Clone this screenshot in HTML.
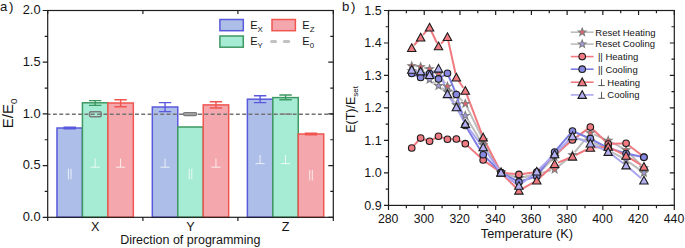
<!DOCTYPE html>
<html><head><meta charset="utf-8"><style>
html,body{margin:0;padding:0;background:#fff;}
svg{display:block;}
text{font-family:"Liberation Sans", sans-serif;fill:#141414;}
</style></head><body>
<svg width="685" height="248" viewBox="0 0 685 248">
<rect width="685" height="248" fill="#fff"/>
<rect x="56.98" y="128.00" width="25.45" height="89.30" fill="#adbfe8" stroke="#5a58dc" stroke-width="1.5"/><path d="M63.50 127.30H75.90M63.50 128.70H75.90M69.70 127.30V128.70" stroke="#5a58dc" stroke-width="1.4" fill="none"/><path d="M68.40 168.80v10.5M71.00 168.80v10.5" stroke="#ffffff" stroke-opacity="0.85" stroke-width="0.9" fill="none"/><rect x="82.43" y="102.80" width="25.45" height="114.50" fill="#a6ecd4" stroke="#3e9862" stroke-width="1.5"/><path d="M88.95 100.60H101.35M88.95 105.40H101.35M95.15 100.60V105.40" stroke="#3e9862" stroke-width="1.4" fill="none"/><path d="M95.15 158.60v8.6M90.55 167.20h9.2" stroke="#ffffff" stroke-opacity="0.85" stroke-width="0.9" fill="none"/><rect x="107.88" y="103.00" width="25.45" height="114.30" fill="#f4a8ad" stroke="#f0564f" stroke-width="1.5"/><path d="M114.40 99.80H126.80M114.40 106.80H126.80M120.60 99.80V106.80" stroke="#f0564f" stroke-width="1.4" fill="none"/><path d="M120.60 158.60v8.6M116.00 167.20h9.2" stroke="#ffffff" stroke-opacity="0.85" stroke-width="0.9" fill="none"/><rect x="152.32" y="107.00" width="25.45" height="110.30" fill="#adbfe8" stroke="#5a58dc" stroke-width="1.5"/><path d="M158.85 102.60H171.25M158.85 111.60H171.25M165.05 102.60V111.60" stroke="#5a58dc" stroke-width="1.4" fill="none"/><path d="M165.05 158.60v8.6M160.45 167.20h9.2" stroke="#ffffff" stroke-opacity="0.85" stroke-width="0.9" fill="none"/><rect x="177.77" y="127.00" width="25.45" height="90.30" fill="#a6ecd4" stroke="#3e9862" stroke-width="1.5"/><path d="M189.20 168.80v10.5M191.80 168.80v10.5" stroke="#ffffff" stroke-opacity="0.85" stroke-width="0.9" fill="none"/><rect x="203.22" y="104.90" width="25.45" height="112.40" fill="#f4a8ad" stroke="#f0564f" stroke-width="1.5"/><path d="M209.75 101.80H222.15M209.75 108.00H222.15M215.95 101.80V108.00" stroke="#f0564f" stroke-width="1.4" fill="none"/><path d="M215.95 158.60v8.6M211.35 167.20h9.2" stroke="#ffffff" stroke-opacity="0.85" stroke-width="0.9" fill="none"/><rect x="247.38" y="99.20" width="25.45" height="118.10" fill="#adbfe8" stroke="#5a58dc" stroke-width="1.5"/><path d="M253.90 95.80H266.30M253.90 102.60H266.30M260.10 95.80V102.60" stroke="#5a58dc" stroke-width="1.4" fill="none"/><path d="M260.10 155.00v8.6M255.50 163.60h9.2" stroke="#ffffff" stroke-opacity="0.85" stroke-width="0.9" fill="none"/><rect x="272.82" y="97.60" width="25.45" height="119.70" fill="#a6ecd4" stroke="#3e9862" stroke-width="1.5"/><path d="M279.35 95.00H291.75M279.35 99.80H291.75M285.55 95.00V99.80" stroke="#3e9862" stroke-width="1.4" fill="none"/><path d="M285.55 155.00v8.6M280.95 163.60h9.2" stroke="#ffffff" stroke-opacity="0.85" stroke-width="0.9" fill="none"/><rect x="298.27" y="134.00" width="25.45" height="83.30" fill="#f4a8ad" stroke="#f0564f" stroke-width="1.5"/><path d="M304.80 133.30H317.20M304.80 134.70H317.20M311.00 133.30V134.70" stroke="#f0564f" stroke-width="1.4" fill="none"/><path d="M309.70 170.00v10.5M312.30 170.00v10.5" stroke="#ffffff" stroke-opacity="0.85" stroke-width="0.9" fill="none"/>
<line x1="47.7" y1="114.2" x2="333.3" y2="114.2" stroke="#737373" stroke-width="1.6" stroke-dasharray="3.9 2.41" stroke-dashoffset="1.06"/>
<rect x="89.6" y="111.7" width="11.6" height="5.0" rx="1.2" fill="none" stroke="#7a7a7a" stroke-width="1.5"/>
<rect x="183.4" y="112.6" width="13.4" height="2.9" rx="1.4" fill="#acacac" stroke="#7a7a7a" stroke-width="1.3"/>
<line x1="279.6" y1="114.1" x2="292" y2="114.1" stroke="#858585" stroke-width="1.4"/>
<rect x="47.7" y="10.5" width="285.60" height="206.80" fill="none" stroke="#1e1e1e" stroke-width="1.2"/>
<path d="M42.70 217.30H47.70M328.30 217.30H333.30M44.70 191.45H47.70M330.30 191.45H333.30M42.70 165.60H47.70M328.30 165.60H333.30M44.70 139.75H47.70M330.30 139.75H333.30M42.70 113.90H47.70M328.30 113.90H333.30M44.70 88.05H47.70M330.30 88.05H333.30M42.70 62.20H47.70M328.30 62.20H333.30M44.70 36.35H47.70M330.30 36.35H333.30M42.70 10.50H47.70M328.30 10.50H333.30M47.70 217.30V220.90M47.70 10.50V14.10M142.90 217.30V220.90M142.90 10.50V14.10M237.90 217.30V220.90M237.90 10.50V14.10M333.30 217.30V220.90M333.30 10.50V14.10" stroke="#1e1e1e" stroke-width="1.2" fill="none"/>
<text x="40.6" y="221.00" text-anchor="end" font-size="12.9">0.0</text>
<text x="40.6" y="169.30" text-anchor="end" font-size="12.9">0.5</text>
<text x="40.6" y="117.60" text-anchor="end" font-size="12.9">1.0</text>
<text x="40.6" y="65.90" text-anchor="end" font-size="12.9">1.5</text>
<text x="40.6" y="14.20" text-anchor="end" font-size="12.9">2.0</text>
<text x="95.15" y="231.4" text-anchor="middle" font-size="12.6">X</text>
<text x="190.50" y="231.4" text-anchor="middle" font-size="12.6">Y</text>
<text x="285.55" y="231.4" text-anchor="middle" font-size="12.6">Z</text>
<text x="190.3" y="244.2" text-anchor="middle" font-size="12.5">Direction of programming</text>
<text transform="translate(12.6 113.4) rotate(-90)" text-anchor="middle" font-size="15">E/E<tspan font-size="9.8" dy="4.2">0</tspan></text>
<text x="0" y="11.0" font-size="13.2">a<tspan dx="1.6">)</tspan></text>
<rect x="219.9" y="19.5" width="23.4" height="11.2" fill="#adbfe8" stroke="#5a58dc" stroke-width="1.5"/>
<rect x="219.9" y="36.0" width="23.4" height="11.2" fill="#a6ecd4" stroke="#3e9862" stroke-width="1.5"/>
<rect x="272" y="19.5" width="23.4" height="11.2" fill="#f4a8ad" stroke="#f0564f" stroke-width="1.5"/>
<path d="M271.6 41.5H275.6M284.3 41.5H288.7" stroke="#c2c2c2" stroke-width="3" stroke-linecap="round"/>
<text x="250.2" y="28.5" font-size="11">E<tspan font-size="7.8" dy="3.5">X</tspan></text>
<text x="250.2" y="44.9" font-size="11">E<tspan font-size="7.8" dy="3.5">Y</tspan></text>
<text x="302.3" y="28.5" font-size="11">E<tspan font-size="7.8" dy="3.5">Z</tspan></text>
<text x="302.3" y="44.9" font-size="11">E<tspan font-size="7.8" dy="3.5">0</tspan></text>
<rect x="388.5" y="10.5" width="285.80" height="194.90" fill="none" stroke="#1e1e1e" stroke-width="1.2"/>
<path d="M384.00 205.40H388.50M669.80 205.40H674.30M385.70 189.16H388.50M671.50 189.16H674.30M384.00 172.92H388.50M669.80 172.92H674.30M385.70 156.68H388.50M671.50 156.68H674.30M384.00 140.43H388.50M669.80 140.43H674.30M385.70 124.19H388.50M671.50 124.19H674.30M384.00 107.95H388.50M669.80 107.95H674.30M385.70 91.71H388.50M671.50 91.71H674.30M384.00 75.47H388.50M669.80 75.47H674.30M385.70 59.22H388.50M671.50 59.22H674.30M384.00 42.98H388.50M669.80 42.98H674.30M385.70 26.74H388.50M671.50 26.74H674.30M384.00 10.50H388.50M669.80 10.50H674.30M388.50 205.40V209.90M388.50 10.50V15.00M406.36 205.40V208.20M406.36 10.50V13.30M424.23 205.40V209.90M424.23 10.50V15.00M442.09 205.40V208.20M442.09 10.50V13.30M459.95 205.40V209.90M459.95 10.50V15.00M477.81 205.40V208.20M477.81 10.50V13.30M495.67 205.40V209.90M495.67 10.50V15.00M513.54 205.40V208.20M513.54 10.50V13.30M531.40 205.40V209.90M531.40 10.50V15.00M549.26 205.40V208.20M549.26 10.50V13.30M567.12 205.40V209.90M567.12 10.50V15.00M584.99 205.40V208.20M584.99 10.50V13.30M602.85 205.40V209.90M602.85 10.50V15.00M620.71 205.40V208.20M620.71 10.50V13.30M638.57 205.40V209.90M638.57 10.50V15.00M656.44 205.40V208.20M656.44 10.50V13.30M674.30 205.40V209.90M674.30 10.50V15.00" stroke="#1e1e1e" stroke-width="1.2" fill="none"/>
<text x="381.6" y="209.70" text-anchor="end" font-size="12.5">0.9</text>
<text x="381.6" y="177.22" text-anchor="end" font-size="12.5">1.0</text>
<text x="381.6" y="144.73" text-anchor="end" font-size="12.5">1.1</text>
<text x="381.6" y="112.25" text-anchor="end" font-size="12.5">1.2</text>
<text x="381.6" y="79.77" text-anchor="end" font-size="12.5">1.3</text>
<text x="381.6" y="47.28" text-anchor="end" font-size="12.5">1.4</text>
<text x="381.6" y="14.80" text-anchor="end" font-size="12.5">1.5</text>
<text x="388.20" y="223.0" text-anchor="middle" font-size="12.3">280</text>
<text x="423.93" y="223.0" text-anchor="middle" font-size="12.3">300</text>
<text x="459.65" y="223.0" text-anchor="middle" font-size="12.3">320</text>
<text x="495.37" y="223.0" text-anchor="middle" font-size="12.3">340</text>
<text x="531.10" y="223.0" text-anchor="middle" font-size="12.3">360</text>
<text x="566.83" y="223.0" text-anchor="middle" font-size="12.3">380</text>
<text x="602.55" y="223.0" text-anchor="middle" font-size="12.3">400</text>
<text x="638.27" y="223.0" text-anchor="middle" font-size="12.3">420</text>
<text x="674.00" y="223.0" text-anchor="middle" font-size="12.3">440</text>
<text x="526.9" y="238.3" text-anchor="middle" font-size="12.75">Temperature (K)</text>
<text transform="translate(355.4 109.4) rotate(-90)" text-anchor="middle" font-size="12.5">E(T)/E<tspan font-size="8" dy="3">set</tspan></text>
<text x="342.0" y="10.6" font-size="13.2">b<tspan dx="1.6">)</tspan></text>
<path d="M415.30 66.36L417.07 66.54M424.16 67.72L426.08 68.18M432.72 70.76L435.37 72.24M440.62 76.92L445.34 83.48M450.04 88.90L453.78 92.50M458.96 97.51L462.73 101.19M466.90 106.93L481.58 136.77M484.93 143.14L499.28 168.86M504.45 173.15L515.48 176.85M522.41 177.21L533.25 174.79M540.25 173.10L551.13 170.30M557.42 167.14L569.68 157.26M574.75 152.21L588.08 135.79M593.67 134.39L604.89 139.11M611.39 142.19L622.89 148.31M628.61 152.56L641.40 165.44" stroke="#bdbdbd" stroke-width="2.0" fill="none"/>
<path d="M415.19 71.97L417.19 72.53M423.64 75.51L426.60 77.49M432.53 81.56L435.57 83.69M441.46 87.81L444.50 89.94M449.48 94.97L454.34 102.03M458.70 107.75L462.99 112.85M467.18 118.68L481.30 141.92M485.11 148.04L499.10 169.96M504.50 173.97L515.43 177.03M522.45 177.40L533.21 175.60M539.29 172.44L552.09 159.56M557.09 154.38L570.02 140.62M576.03 138.60L586.80 140.40M593.56 142.62L604.99 148.38M611.35 151.76L622.93 158.24M629.00 162.09L641.00 170.66" stroke="#bdbdbd" stroke-width="2.0" fill="none"/>
<path d="M414.13 145.33L418.24 140.77M424.05 139.30L426.19 140.05M432.72 139.49L435.37 138.01M441.93 137.40L444.03 138.10M451.04 139.15L452.78 139.10M459.56 140.68L462.12 142.02M467.97 146.13L480.51 157.57M486.12 162.06L498.08 170.44M504.61 172.88L515.32 174.02M522.46 173.92L533.19 172.48M539.37 169.52L552.01 157.48M557.38 152.68L569.73 142.32M575.39 137.88L587.44 129.12M592.95 129.48L605.60 141.52M611.81 143.85L622.47 143.40M628.92 145.45L641.08 154.80" stroke="#f07a80" stroke-width="2.0" fill="none"/>
<path d="M415.01 74.97L417.37 76.03M423.94 76.03L426.30 74.97M432.66 75.36L435.43 77.04M441.56 76.98L444.40 75.17M448.84 76.57L454.98 91.18M457.37 97.96L464.31 122.04M467.19 128.57L481.29 151.68M485.72 157.29L498.49 170.06M504.23 174.26L515.70 180.24M522.33 180.81L533.33 177.34M538.89 173.35L552.49 154.90M556.96 149.26L570.14 133.84M575.80 132.49L587.03 137.21M593.53 140.28L605.02 146.32M611.65 149.06L622.63 152.44M629.59 154.25L640.41 156.55" stroke="#7c7ce2" stroke-width="2.0" fill="none"/>
<path d="M414.05 45.26L418.32 40.24M423.05 34.81L427.19 30.19M431.13 30.75L436.97 43.00M441.02 43.66L444.95 39.59M448.22 40.52L455.60 73.98M458.39 80.49L463.30 87.76M466.60 94.11L481.88 134.04M484.79 140.61L499.41 169.59M503.58 175.34L516.35 188.06M522.03 188.83L533.63 182.27M539.40 178.06L551.98 166.44M557.95 162.62L569.16 157.98M575.71 155.01L587.12 149.39M593.94 147.60L604.61 147.00M611.42 148.42L622.86 154.18M629.14 157.69L640.87 164.91" stroke="#f07a80" stroke-width="2.0" fill="none"/>
<path d="M415.26 70.37L417.12 70.73M423.99 72.75L426.24 73.65M432.51 72.90L435.59 70.70M439.71 72.00L446.26 90.70M449.46 97.08L454.36 104.32M458.08 110.47L463.60 120.73M467.49 126.76L480.99 144.44M485.25 150.24L498.95 169.56M503.92 174.65L516.01 183.65M521.71 183.55L533.95 173.75M539.35 169.00L552.03 156.80M557.16 151.74L569.95 138.86M575.82 137.65L587.01 142.15M593.60 145.03L604.95 150.37M611.08 154.07L623.20 163.23M628.82 167.72L641.18 178.18" stroke="#aaa6f0" stroke-width="2.0" fill="none"/>
<path d="M411.72,62.00L412.72,64.62L415.53,64.76L413.34,66.53L414.07,69.24L411.72,67.70L409.37,69.24L410.10,66.53L407.92,64.76L410.72,64.62Z" fill="#e8606c" stroke="#7e7e7e" stroke-width="1.1"/><path d="M420.65,62.90L421.65,65.52L424.46,65.66L422.27,67.43L423.00,70.14L420.65,68.60L418.30,70.14L419.04,67.43L416.85,65.66L419.65,65.52Z" fill="#e8606c" stroke="#7e7e7e" stroke-width="1.1"/><path d="M429.58,65.00L430.58,67.62L433.39,67.76L431.20,69.53L431.93,72.24L429.58,70.70L427.23,72.24L427.97,69.53L425.78,67.76L428.58,67.62Z" fill="#e8606c" stroke="#7e7e7e" stroke-width="1.1"/><path d="M438.51,70.00L439.51,72.62L442.32,72.76L440.13,74.53L440.87,77.24L438.51,75.70L436.16,77.24L436.90,74.53L434.71,72.76L437.52,72.62Z" fill="#e8606c" stroke="#7e7e7e" stroke-width="1.1"/><path d="M447.45,82.40L448.45,85.02L451.25,85.16L449.06,86.93L449.80,89.64L447.45,88.10L445.10,89.64L445.83,86.93L443.64,85.16L446.45,85.02Z" fill="#e8606c" stroke="#7e7e7e" stroke-width="1.1"/><path d="M456.38,91.00L457.38,93.62L460.18,93.76L457.99,95.53L458.73,98.24L456.38,96.70L454.03,98.24L454.76,95.53L452.57,93.76L455.38,93.62Z" fill="#e8606c" stroke="#7e7e7e" stroke-width="1.1"/><path d="M465.31,99.70L466.31,102.32L469.11,102.46L466.93,104.23L467.66,106.94L465.31,105.40L462.96,106.94L463.69,104.23L461.50,102.46L464.31,102.32Z" fill="#e8606c" stroke="#7e7e7e" stroke-width="1.1"/><path d="M483.17,136.00L484.17,138.62L486.98,138.76L484.79,140.53L485.52,143.24L483.17,141.70L480.82,143.24L481.55,140.53L479.37,138.76L482.17,138.62Z" fill="#e8606c" stroke="#7e7e7e" stroke-width="1.1"/><path d="M501.03,168.00L502.03,170.62L504.84,170.76L502.65,172.53L503.38,175.24L501.03,173.70L498.68,175.24L499.42,172.53L497.23,170.76L500.03,170.62Z" fill="#e8606c" stroke="#7e7e7e" stroke-width="1.1"/><path d="M518.90,174.00L519.90,176.62L522.70,176.76L520.51,178.53L521.25,181.24L518.90,179.70L516.55,181.24L517.28,178.53L515.09,176.76L517.90,176.62Z" fill="#e8606c" stroke="#7e7e7e" stroke-width="1.1"/><path d="M536.76,170.00L537.76,172.62L540.56,172.76L538.38,174.53L539.11,177.24L536.76,175.70L534.41,177.24L535.14,174.53L532.95,172.76L535.76,172.62Z" fill="#e8606c" stroke="#7e7e7e" stroke-width="1.1"/><path d="M554.62,165.40L555.62,168.02L558.43,168.16L556.24,169.93L556.97,172.64L554.62,171.10L552.27,172.64L553.00,169.93L550.82,168.16L553.62,168.02Z" fill="#e8606c" stroke="#7e7e7e" stroke-width="1.1"/><path d="M572.48,151.00L573.48,153.62L576.29,153.76L574.10,155.53L574.83,158.24L572.48,156.70L570.13,158.24L570.87,155.53L568.68,153.76L571.48,153.62Z" fill="#e8606c" stroke="#7e7e7e" stroke-width="1.1"/><path d="M590.35,129.00L591.35,131.62L594.15,131.76L591.96,133.53L592.70,136.24L590.35,134.70L588.00,136.24L588.73,133.53L586.54,131.76L589.35,131.62Z" fill="#e8606c" stroke="#7e7e7e" stroke-width="1.1"/><path d="M608.21,136.50L609.21,139.12L612.01,139.26L609.83,141.03L610.56,143.74L608.21,142.20L605.86,143.74L606.59,141.03L604.40,139.26L607.21,139.12Z" fill="#e8606c" stroke="#7e7e7e" stroke-width="1.1"/><path d="M626.07,146.00L627.07,148.62L629.88,148.76L627.69,150.53L628.42,153.24L626.07,151.70L623.72,153.24L624.45,150.53L622.27,148.76L625.07,148.62Z" fill="#e8606c" stroke="#7e7e7e" stroke-width="1.1"/><path d="M643.93,164.00L644.93,166.62L647.74,166.76L645.55,168.53L646.28,171.24L643.93,169.70L641.58,171.24L642.32,168.53L640.13,166.76L642.93,166.62Z" fill="#e8606c" stroke="#7e7e7e" stroke-width="1.1"/>
<path d="M411.72,67.00L412.72,69.62L415.53,69.76L413.34,71.53L414.07,74.24L411.72,72.70L409.37,74.24L410.10,71.53L407.92,69.76L410.72,69.62Z" fill="#a39ce6" stroke="#7e7e7e" stroke-width="1.1"/><path d="M420.65,69.50L421.65,72.12L424.46,72.26L422.27,74.03L423.00,76.74L420.65,75.20L418.30,76.74L419.04,74.03L416.85,72.26L419.65,72.12Z" fill="#a39ce6" stroke="#7e7e7e" stroke-width="1.1"/><path d="M429.58,75.50L430.58,78.12L433.39,78.26L431.20,80.03L431.93,82.74L429.58,81.20L427.23,82.74L427.97,80.03L425.78,78.26L428.58,78.12Z" fill="#a39ce6" stroke="#7e7e7e" stroke-width="1.1"/><path d="M438.51,81.75L439.51,84.37L442.32,84.51L440.13,86.28L440.87,88.99L438.51,87.45L436.16,88.99L436.90,86.28L434.71,84.51L437.52,84.37Z" fill="#a39ce6" stroke="#7e7e7e" stroke-width="1.1"/><path d="M447.45,88.00L448.45,90.62L451.25,90.76L449.06,92.53L449.80,95.24L447.45,93.70L445.10,95.24L445.83,92.53L443.64,90.76L446.45,90.62Z" fill="#a39ce6" stroke="#7e7e7e" stroke-width="1.1"/><path d="M456.38,101.00L457.38,103.62L460.18,103.76L457.99,105.53L458.73,108.24L456.38,106.70L454.03,108.24L454.76,105.53L452.57,103.76L455.38,103.62Z" fill="#a39ce6" stroke="#7e7e7e" stroke-width="1.1"/><path d="M465.31,111.60L466.31,114.22L469.11,114.36L466.93,116.13L467.66,118.84L465.31,117.30L462.96,118.84L463.69,116.13L461.50,114.36L464.31,114.22Z" fill="#a39ce6" stroke="#7e7e7e" stroke-width="1.1"/><path d="M483.17,141.00L484.17,143.62L486.98,143.76L484.79,145.53L485.52,148.24L483.17,146.70L480.82,148.24L481.55,145.53L479.37,143.76L482.17,143.62Z" fill="#a39ce6" stroke="#7e7e7e" stroke-width="1.1"/><path d="M501.03,169.00L502.03,171.62L504.84,171.76L502.65,173.53L503.38,176.24L501.03,174.70L498.68,176.24L499.42,173.53L497.23,171.76L500.03,171.62Z" fill="#a39ce6" stroke="#7e7e7e" stroke-width="1.1"/><path d="M518.90,174.00L519.90,176.62L522.70,176.76L520.51,178.53L521.25,181.24L518.90,179.70L516.55,181.24L517.28,178.53L515.09,176.76L517.90,176.62Z" fill="#a39ce6" stroke="#7e7e7e" stroke-width="1.1"/><path d="M536.76,171.00L537.76,173.62L540.56,173.76L538.38,175.53L539.11,178.24L536.76,176.70L534.41,178.24L535.14,175.53L532.95,173.76L535.76,173.62Z" fill="#a39ce6" stroke="#7e7e7e" stroke-width="1.1"/><path d="M554.62,153.00L555.62,155.62L558.43,155.76L556.24,157.53L556.97,160.24L554.62,158.70L552.27,160.24L553.00,157.53L550.82,155.76L553.62,155.62Z" fill="#a39ce6" stroke="#7e7e7e" stroke-width="1.1"/><path d="M572.48,134.00L573.48,136.62L576.29,136.76L574.10,138.53L574.83,141.24L572.48,139.70L570.13,141.24L570.87,138.53L568.68,136.76L571.48,136.62Z" fill="#a39ce6" stroke="#7e7e7e" stroke-width="1.1"/><path d="M590.35,137.00L591.35,139.62L594.15,139.76L591.96,141.53L592.70,144.24L590.35,142.70L588.00,144.24L588.73,141.53L586.54,139.76L589.35,139.62Z" fill="#a39ce6" stroke="#7e7e7e" stroke-width="1.1"/><path d="M608.21,146.00L609.21,148.62L612.01,148.76L609.83,150.53L610.56,153.24L608.21,151.70L605.86,153.24L606.59,150.53L604.40,148.76L607.21,148.62Z" fill="#a39ce6" stroke="#7e7e7e" stroke-width="1.1"/><path d="M626.07,156.00L627.07,158.62L629.88,158.76L627.69,160.53L628.42,163.24L626.07,161.70L623.72,163.24L624.45,160.53L622.27,158.76L625.07,158.62Z" fill="#a39ce6" stroke="#7e7e7e" stroke-width="1.1"/><path d="M643.93,168.75L644.93,171.37L647.74,171.51L645.55,173.28L646.28,175.99L643.93,174.45L641.58,175.99L642.32,173.28L640.13,171.51L642.93,171.37Z" fill="#a39ce6" stroke="#7e7e7e" stroke-width="1.1"/>
<circle cx="411.72" cy="148.00" r="3.3" fill="#f07a82" stroke="#1a1a1a" stroke-width="1.1"/><circle cx="420.65" cy="138.10" r="3.3" fill="#f07a82" stroke="#1a1a1a" stroke-width="1.1"/><circle cx="429.58" cy="141.25" r="3.3" fill="#f07a82" stroke="#1a1a1a" stroke-width="1.1"/><circle cx="438.51" cy="136.25" r="3.3" fill="#f07a82" stroke="#1a1a1a" stroke-width="1.1"/><circle cx="447.45" cy="139.25" r="3.3" fill="#f07a82" stroke="#1a1a1a" stroke-width="1.1"/><circle cx="456.38" cy="139.00" r="3.3" fill="#f07a82" stroke="#1a1a1a" stroke-width="1.1"/><circle cx="465.31" cy="143.70" r="3.3" fill="#f07a82" stroke="#1a1a1a" stroke-width="1.1"/><circle cx="483.17" cy="160.00" r="3.3" fill="#f07a82" stroke="#1a1a1a" stroke-width="1.1"/><circle cx="501.03" cy="172.50" r="3.3" fill="#f07a82" stroke="#1a1a1a" stroke-width="1.1"/><circle cx="518.90" cy="174.40" r="3.3" fill="#f07a82" stroke="#1a1a1a" stroke-width="1.1"/><circle cx="536.76" cy="172.00" r="3.3" fill="#f07a82" stroke="#1a1a1a" stroke-width="1.1"/><circle cx="554.62" cy="155.00" r="3.3" fill="#f07a82" stroke="#1a1a1a" stroke-width="1.1"/><circle cx="572.48" cy="140.00" r="3.3" fill="#f07a82" stroke="#1a1a1a" stroke-width="1.1"/><circle cx="590.35" cy="127.00" r="3.3" fill="#f07a82" stroke="#1a1a1a" stroke-width="1.1"/><circle cx="608.21" cy="144.00" r="3.3" fill="#f07a82" stroke="#1a1a1a" stroke-width="1.1"/><circle cx="626.07" cy="143.25" r="3.3" fill="#f07a82" stroke="#1a1a1a" stroke-width="1.1"/><circle cx="643.93" cy="157.00" r="3.3" fill="#f07a82" stroke="#1a1a1a" stroke-width="1.1"/>
<circle cx="411.72" cy="73.50" r="3.3" fill="#8888e0" stroke="#1a1a1a" stroke-width="1.1"/><circle cx="420.65" cy="77.50" r="3.3" fill="#8888e0" stroke="#1a1a1a" stroke-width="1.1"/><circle cx="429.58" cy="73.50" r="3.3" fill="#8888e0" stroke="#1a1a1a" stroke-width="1.1"/><circle cx="438.51" cy="78.90" r="3.3" fill="#8888e0" stroke="#1a1a1a" stroke-width="1.1"/><circle cx="447.45" cy="73.25" r="3.3" fill="#8888e0" stroke="#1a1a1a" stroke-width="1.1"/><circle cx="456.38" cy="94.50" r="3.3" fill="#8888e0" stroke="#1a1a1a" stroke-width="1.1"/><circle cx="465.31" cy="125.50" r="3.3" fill="#8888e0" stroke="#1a1a1a" stroke-width="1.1"/><circle cx="483.17" cy="154.75" r="3.3" fill="#8888e0" stroke="#1a1a1a" stroke-width="1.1"/><circle cx="501.03" cy="172.60" r="3.3" fill="#8888e0" stroke="#1a1a1a" stroke-width="1.1"/><circle cx="518.90" cy="181.90" r="3.3" fill="#8888e0" stroke="#1a1a1a" stroke-width="1.1"/><circle cx="536.76" cy="176.25" r="3.3" fill="#8888e0" stroke="#1a1a1a" stroke-width="1.1"/><circle cx="554.62" cy="152.00" r="3.3" fill="#8888e0" stroke="#1a1a1a" stroke-width="1.1"/><circle cx="572.48" cy="131.10" r="3.3" fill="#8888e0" stroke="#1a1a1a" stroke-width="1.1"/><circle cx="590.35" cy="138.60" r="3.3" fill="#8888e0" stroke="#1a1a1a" stroke-width="1.1"/><circle cx="608.21" cy="148.00" r="3.3" fill="#8888e0" stroke="#1a1a1a" stroke-width="1.1"/><circle cx="626.07" cy="153.50" r="3.3" fill="#8888e0" stroke="#1a1a1a" stroke-width="1.1"/><circle cx="643.93" cy="157.30" r="3.3" fill="#8888e0" stroke="#1a1a1a" stroke-width="1.1"/>
<path d="M411.72 43.80L415.92 51.50L407.52 51.50Z" fill="#f07a82" stroke="#1a1a1a" stroke-width="1.1" stroke-linejoin="miter"/><path d="M420.65 33.30L424.85 41.00L416.45 41.00Z" fill="#f07a82" stroke="#1a1a1a" stroke-width="1.1" stroke-linejoin="miter"/><path d="M429.58 23.30L433.78 31.00L425.38 31.00Z" fill="#f07a82" stroke="#1a1a1a" stroke-width="1.1" stroke-linejoin="miter"/><path d="M438.51 42.05L442.71 49.75L434.31 49.75Z" fill="#f07a82" stroke="#1a1a1a" stroke-width="1.1" stroke-linejoin="miter"/><path d="M447.45 32.80L451.65 40.50L443.25 40.50Z" fill="#f07a82" stroke="#1a1a1a" stroke-width="1.1" stroke-linejoin="miter"/><path d="M456.38 73.30L460.58 81.00L452.18 81.00Z" fill="#f07a82" stroke="#1a1a1a" stroke-width="1.1" stroke-linejoin="miter"/><path d="M465.31 86.55L469.51 94.25L461.11 94.25Z" fill="#f07a82" stroke="#1a1a1a" stroke-width="1.1" stroke-linejoin="miter"/><path d="M483.17 133.20L487.37 140.90L478.97 140.90Z" fill="#f07a82" stroke="#1a1a1a" stroke-width="1.1" stroke-linejoin="miter"/><path d="M501.03 168.60L505.23 176.30L496.83 176.30Z" fill="#f07a82" stroke="#1a1a1a" stroke-width="1.1" stroke-linejoin="miter"/><path d="M518.90 186.40L523.10 194.10L514.70 194.10Z" fill="#f07a82" stroke="#1a1a1a" stroke-width="1.1" stroke-linejoin="miter"/><path d="M536.76 176.30L540.96 184.00L532.56 184.00Z" fill="#f07a82" stroke="#1a1a1a" stroke-width="1.1" stroke-linejoin="miter"/><path d="M554.62 159.80L558.82 167.50L550.42 167.50Z" fill="#f07a82" stroke="#1a1a1a" stroke-width="1.1" stroke-linejoin="miter"/><path d="M572.48 152.40L576.68 160.10L568.28 160.10Z" fill="#f07a82" stroke="#1a1a1a" stroke-width="1.1" stroke-linejoin="miter"/><path d="M590.35 143.60L594.55 151.30L586.15 151.30Z" fill="#f07a82" stroke="#1a1a1a" stroke-width="1.1" stroke-linejoin="miter"/><path d="M608.21 142.60L612.41 150.30L604.01 150.30Z" fill="#f07a82" stroke="#1a1a1a" stroke-width="1.1" stroke-linejoin="miter"/><path d="M626.07 151.60L630.27 159.30L621.87 159.30Z" fill="#f07a82" stroke="#1a1a1a" stroke-width="1.1" stroke-linejoin="miter"/><path d="M643.93 162.60L648.13 170.30L639.73 170.30Z" fill="#f07a82" stroke="#1a1a1a" stroke-width="1.1" stroke-linejoin="miter"/>
<path d="M411.72 65.50L415.92 73.20L407.52 73.20Z" fill="#b3aff2" stroke="#1a1a1a" stroke-width="1.1" stroke-linejoin="miter"/><path d="M420.65 67.20L424.85 74.90L416.45 74.90Z" fill="#b3aff2" stroke="#1a1a1a" stroke-width="1.1" stroke-linejoin="miter"/><path d="M429.58 70.80L433.78 78.50L425.38 78.50Z" fill="#b3aff2" stroke="#1a1a1a" stroke-width="1.1" stroke-linejoin="miter"/><path d="M438.51 64.40L442.71 72.10L434.31 72.10Z" fill="#b3aff2" stroke="#1a1a1a" stroke-width="1.1" stroke-linejoin="miter"/><path d="M447.45 89.90L451.65 97.60L443.25 97.60Z" fill="#b3aff2" stroke="#1a1a1a" stroke-width="1.1" stroke-linejoin="miter"/><path d="M456.38 103.10L460.58 110.80L452.18 110.80Z" fill="#b3aff2" stroke="#1a1a1a" stroke-width="1.1" stroke-linejoin="miter"/><path d="M465.31 119.70L469.51 127.40L461.11 127.40Z" fill="#b3aff2" stroke="#1a1a1a" stroke-width="1.1" stroke-linejoin="miter"/><path d="M483.17 143.10L487.37 150.80L478.97 150.80Z" fill="#b3aff2" stroke="#1a1a1a" stroke-width="1.1" stroke-linejoin="miter"/><path d="M501.03 168.30L505.23 176.00L496.83 176.00Z" fill="#b3aff2" stroke="#1a1a1a" stroke-width="1.1" stroke-linejoin="miter"/><path d="M518.90 181.60L523.10 189.30L514.70 189.30Z" fill="#b3aff2" stroke="#1a1a1a" stroke-width="1.1" stroke-linejoin="miter"/><path d="M536.76 167.30L540.96 175.00L532.56 175.00Z" fill="#b3aff2" stroke="#1a1a1a" stroke-width="1.1" stroke-linejoin="miter"/><path d="M554.62 150.10L558.82 157.80L550.42 157.80Z" fill="#b3aff2" stroke="#1a1a1a" stroke-width="1.1" stroke-linejoin="miter"/><path d="M572.48 132.10L576.68 139.80L568.28 139.80Z" fill="#b3aff2" stroke="#1a1a1a" stroke-width="1.1" stroke-linejoin="miter"/><path d="M590.35 139.30L594.55 147.00L586.15 147.00Z" fill="#b3aff2" stroke="#1a1a1a" stroke-width="1.1" stroke-linejoin="miter"/><path d="M608.21 147.70L612.41 155.40L604.01 155.40Z" fill="#b3aff2" stroke="#1a1a1a" stroke-width="1.1" stroke-linejoin="miter"/><path d="M626.07 161.20L630.27 168.90L621.87 168.90Z" fill="#b3aff2" stroke="#1a1a1a" stroke-width="1.1" stroke-linejoin="miter"/><path d="M643.93 176.30L648.13 184.00L639.73 184.00Z" fill="#b3aff2" stroke="#1a1a1a" stroke-width="1.1" stroke-linejoin="miter"/>
<line x1="570.8" y1="32.20" x2="593.6" y2="32.20" stroke="#bdbdbd" stroke-width="1.6"/>
<path d="M582.20,28.20L583.20,30.82L586.00,30.96L583.82,32.73L584.55,35.44L582.20,33.90L579.85,35.44L580.58,32.73L578.40,30.96L581.20,30.82Z" fill="#e8606c" stroke="#7e7e7e" stroke-width="1.1"/>
<text x="595.3" y="35.50" font-size="9.5">Reset Heating</text>
<line x1="570.8" y1="44.10" x2="593.6" y2="44.10" stroke="#bdbdbd" stroke-width="1.6"/>
<path d="M582.20,40.10L583.20,42.72L586.00,42.86L583.82,44.63L584.55,47.34L582.20,45.80L579.85,47.34L580.58,44.63L578.40,42.86L581.20,42.72Z" fill="#a39ce6" stroke="#7e7e7e" stroke-width="1.1"/>
<text x="595.3" y="47.40" font-size="9.5">Reset Cooling</text>
<line x1="570.8" y1="56.60" x2="593.6" y2="56.60" stroke="#f07a80" stroke-width="1.6"/>
<circle cx="582.20" cy="56.60" r="3.3" fill="#f07a82" stroke="#1a1a1a" stroke-width="1.1"/>
<text x="597.9" y="59.90" font-size="9.5">|| Heating</text>
<line x1="570.8" y1="69.20" x2="593.6" y2="69.20" stroke="#7c7ce2" stroke-width="1.6"/>
<circle cx="582.20" cy="69.20" r="3.3" fill="#8888e0" stroke="#1a1a1a" stroke-width="1.1"/>
<text x="597.9" y="72.50" font-size="9.5">|| Cooling</text>
<line x1="570.8" y1="82.20" x2="593.6" y2="82.20" stroke="#f07a80" stroke-width="1.6"/>
<path d="M582.20 78.00L586.40 85.70L578.00 85.70Z" fill="#f07a82" stroke="#1a1a1a" stroke-width="1.1" stroke-linejoin="miter"/>
<path d="M601.5 79.20V85.60M598.2 85.60H604.8" stroke="#141414" stroke-width="0.7" fill="none"/>
<text x="607.3" y="85.50" font-size="9.5">Heating</text>
<line x1="570.8" y1="94.90" x2="593.6" y2="94.90" stroke="#aaa6f0" stroke-width="1.6"/>
<path d="M582.20 90.70L586.40 98.40L578.00 98.40Z" fill="#b3aff2" stroke="#1a1a1a" stroke-width="1.1" stroke-linejoin="miter"/>
<path d="M601.5 91.90V98.30M598.2 98.30H604.8" stroke="#141414" stroke-width="0.7" fill="none"/>
<text x="607.3" y="98.20" font-size="9.5">Cooling</text>
</svg>
</body></html>
